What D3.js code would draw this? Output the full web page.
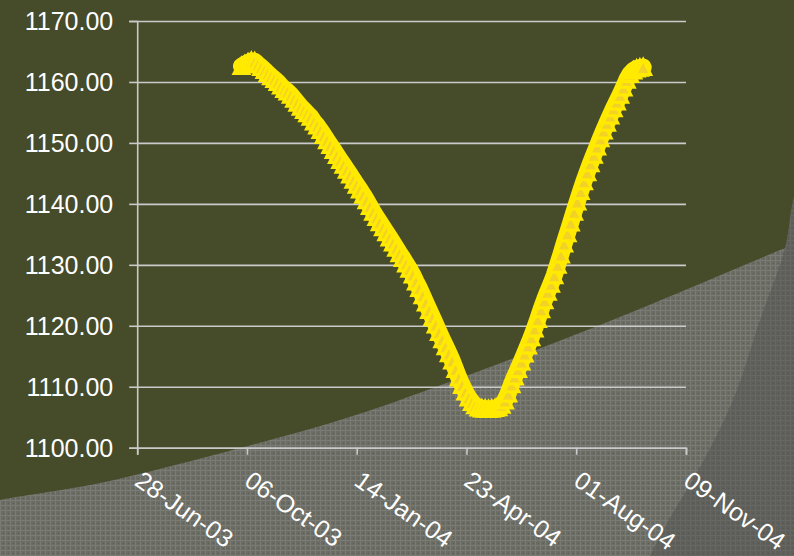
<!DOCTYPE html>
<html>
<head>
<meta charset="utf-8">
<script src="https://cdn.jsdelivr.net/npm/d3@7"></script>
<style>
  html, body { margin: 0; padding: 0; background: #464B29; }
  svg { display: block; }
  text { font-family: "Liberation Sans", Arial, sans-serif; fill: #FFFFFF; }
</style>
</head>
<body>
<svg id="chart" width="794" height="556"></svg>
<script>
// Index level, sampled every third day from 1 Oct 2003
const firstDate = new Date(2003, 9, 1);
const dayStep = 3;
const values = [
  1162.6, 1162.9, 1163.2, 1163.45, 1163.4, 1162.9, 1162.45, 1161.95, 1161.45, 1160.95,
  1160.5, 1160.0, 1159.4, 1158.85, 1158.45, 1157.9, 1157.25, 1156.6, 1155.95, 1155.4,
  1154.85, 1154.3, 1153.5, 1152.85, 1152.1, 1151.3, 1150.45, 1149.65, 1148.85, 1148.0,
  1147.2, 1146.4, 1145.6, 1144.8, 1143.95, 1143.15, 1142.35, 1141.5, 1140.6, 1139.65,
  1138.7, 1137.85, 1137.0, 1136.15, 1135.35, 1134.5, 1133.65, 1132.8, 1131.9, 1131.1,
  1130.2, 1129.35, 1128.4, 1127.25, 1126.2, 1125.0, 1123.8, 1122.6, 1121.4, 1120.2,
  1119.0, 1117.8, 1116.65, 1115.5, 1114.3, 1112.9, 1111.5, 1110.3, 1109.2, 1108.25,
  1107.5, 1106.95, 1106.6, 1106.45, 1106.4, 1106.35, 1106.4, 1106.5, 1106.65, 1107.05,
  1107.75, 1108.9, 1110.4, 1111.7, 1112.9, 1114.15, 1115.45, 1116.75, 1118.1, 1119.55,
  1121.1, 1122.7, 1124.2, 1125.6, 1126.9, 1128.3, 1130.0, 1131.7, 1133.5, 1135.2,
  1136.95, 1138.7, 1140.4, 1142.1, 1143.7, 1145.2, 1146.65, 1148.05, 1149.4, 1150.75,
  1152.05, 1153.3, 1154.5, 1155.7, 1156.8, 1157.9, 1159.1, 1160.35, 1161.3, 1161.9,
  1162.2, 1162.35, 1162.45
];

// Axis ticks
const xTickDates = ["2003-06-28", "2003-10-06", "2004-01-14", "2004-04-23", "2004-08-01", "2004-11-09"];
const yTicks = [1100, 1110, 1120, 1130, 1140, 1150, 1160, 1170];

const parseDay = d3.timeParse("%Y-%m-%d");
const tickDates = xTickDates.map(parseDay);
const points = values.map((v, i) => ({ date: d3.timeDay.offset(firstDate, i * dayStep), value: v }));

const svg = d3.select("#chart");
const W = 794, H = 556;
const plot = { left: 137.2, right: 686, top: 21, bottom: 447.7 };

// ---- slide background: olive field with two grey textured sweeps ----
const defs = svg.append("defs");
function texture(id, base, line, dot) {
  const p = defs.append("pattern").attr("id", id)
    .attr("width", 5).attr("height", 5).attr("patternUnits", "userSpaceOnUse");
  p.append("rect").attr("width", 5).attr("height", 5).attr("fill", base);
  p.append("rect").attr("width", 5).attr("height", 1).attr("fill", line);
  p.append("rect").attr("width", 1).attr("height", 5).attr("fill", line);
  p.append("rect").attr("x", 3).attr("y", 3).attr("width", 1).attr("height", 1).attr("fill", dot);
}
texture("greyTex", "#6B6C64", "#7A7B74", "#5B5D52");
texture("darkTex", "#5E5F5B", "#666762", "#555650");

svg.append("rect").attr("width", W).attr("height", H).attr("fill", "#464B29");

const sweep = d3.line().curve(d3.curveCatmullRom);
const greyEdge = [[-10, 503], [0, 500], [100, 483], [240, 448], [340, 420], [400, 400], [600, 325], [785, 248], [810, 238]];
svg.append("path")
  .attr("d", sweep(greyEdge) + "L810,570L-10,570Z")
  .attr("fill", "url(#greyTex)");

const darkEdge = [[822, 110], [794, 196], [785, 248], [760, 320], [733, 400], [700, 467], [667, 523], [650, 556], [640, 575]];
svg.append("path")
  .attr("d", sweep(darkEdge) + "L822,575Z")
  .attr("fill", "url(#darkTex)");

// ---- scales ----
const x = d3.scaleTime()
  .domain([tickDates[0], tickDates[tickDates.length - 1]])
  .range([plot.left, plot.right]);
const y = d3.scaleLinear()
  .domain([yTicks[0], yTicks[yTicks.length - 1]])
  .range([plot.bottom, plot.top]);

const axisColor = "#CACACA";

// horizontal gridlines
svg.append("g")
  .attr("transform", `translate(${plot.left},0)`)
  .call(d3.axisLeft(y).tickValues(yTicks).tickSize(-(plot.right - plot.left)).tickFormat(""))
  .call(g => g.select(".domain").remove())
  .call(g => g.selectAll("line").attr("stroke", axisColor).attr("stroke-width", 1.6));

// y axis
svg.append("g")
  .attr("transform", `translate(${plot.left},0)`)
  .call(d3.axisLeft(y).tickValues(yTicks).tickSize(8).tickPadding(16).tickFormat(d3.format(".2f")))
  .call(g => g.select(".domain").attr("stroke", axisColor).attr("stroke-width", 1.6))
  .call(g => g.selectAll("line").attr("stroke", axisColor).attr("stroke-width", 1.6))
  .call(g => g.selectAll("text")
    .attr("fill", "#FFFFFF").attr("dy", "0.35em")
    .style("font-size", "25px").style("font-family", '"Liberation Sans", Arial, sans-serif'));

// x axis
svg.append("g")
  .attr("transform", `translate(0,${plot.bottom})`)
  .call(d3.axisBottom(x).tickValues(tickDates).tickSize(7).tickFormat(d3.timeFormat("%d-%b-%y")))
  .call(g => g.select(".domain").attr("stroke", axisColor).attr("stroke-width", 1.6))
  .call(g => g.selectAll("line").attr("stroke", axisColor).attr("stroke-width", 1.6))
  .call(g => g.selectAll("text")
    .attr("fill", "#FFFFFF").attr("x", 0).attr("y", 0).attr("dy", 0)
    .attr("text-anchor", "start")
    .attr("transform", "translate(-4.5,36.5) rotate(35)")
    .style("font-size", "25px").style("font-family", '"Liberation Sans", Arial, sans-serif'));

// ---- series: heavy line with stacked triangle markers ----
const line = d3.line().x(d => x(d.date)).y(d => y(d.value));
svg.append("path")
  .datum(points)
  .attr("d", line)
  .attr("fill", "none")
  .attr("stroke", "#FFEA00")
  .attr("stroke-width", 17)
  .attr("stroke-linejoin", "round")
  .attr("stroke-linecap", "round");

svg.append("g").selectAll("path")
  .data(points)
  .join("path")
  .attr("transform", d => `translate(${x(d.date)},${y(d.value)})`)
  .attr("d", "M0,-7.5L7.5,7.5L-7.5,7.5Z")
  .attr("fill", "#F2D226")
  .attr("stroke", "#FFEA00")
  .attr("stroke-width", 3)
  .attr("stroke-linejoin", "miter");
</script>
</body>
</html>
